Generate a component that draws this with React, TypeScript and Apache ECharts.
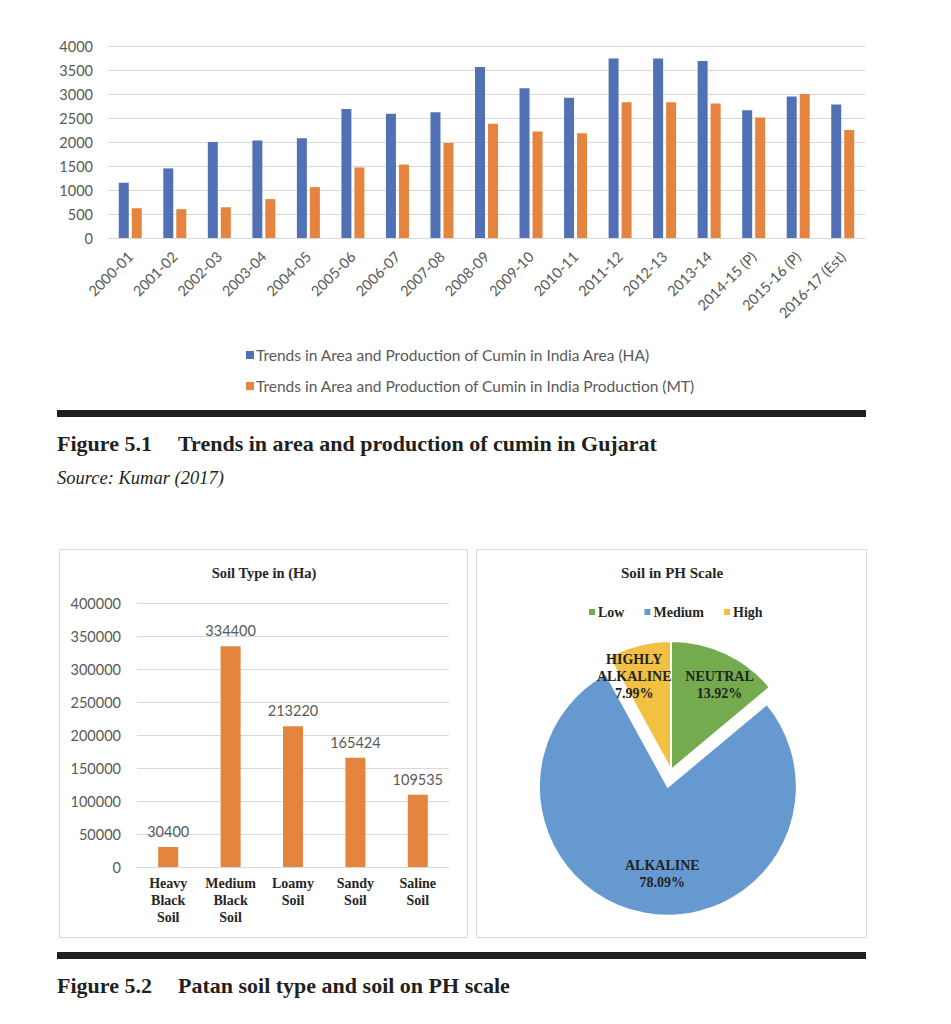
import React, { useEffect, useRef } from "react";
import * as echarts from "echarts";

const years = [
  "2000-01", "2001-02", "2002-03", "2003-04", "2004-05", "2005-06", "2006-07",
  "2007-08", "2008-09", "2009-10", "2010-11", "2011-12", "2012-13", "2013-14",
  "2014-15 (P)", "2015-16 (P)", "2016-17 (Est)",
];
const areaHA = [1150, 1450, 2000, 2030, 2080, 2690, 2590, 2620, 3560, 3120, 2920, 3740, 3740, 3690, 2660, 2950, 2780];
const productionMT = [620, 600, 640, 810, 1060, 1470, 1530, 1980, 2380, 2220, 2180, 2830, 2830, 2800, 2510, 3000, 2250];
const seriesNames = [
  "Trends in Area and Production of Cumin in India Area (HA)",
  "Trends in Area and Production of Cumin in India Production (MT)",
];

const soilTypes = ["Heavy\nBlack\nSoil", "Medium\nBlack\nSoil", "Loamy\nSoil", "Sandy\nSoil", "Saline\nSoil"];
const soilArea = [30400, 334400, 213220, 165424, 109535];

const phLegend = ["Low", "Medium", "High"];
const phLabels = ["NEUTRAL", "ALKALINE", "HIGHLY\nALKALINE"];
const phShare = [13.92, 78.09, 7.99];

const SANS = "Lato";
const SERIF = "Liberation Serif";
const GRAY = "#595959";
const DARK = "#231f20";

export default function App() {
  const ref = useRef<HTMLDivElement>(null);

  useEffect(() => {
    if (!ref.current) return;
    const chart = echarts.init(ref.current, null, { renderer: "svg" });
    const pieDx = [20, 7, -20];
    const pieDy = [-24, 21, -28];
    const plain = (v: number) => String(v);
    const option: any = {
      animation: false,
      backgroundColor: "#ffffff",
      textStyle: { fontFamily: SANS },
      legend: [
        {
          data: seriesNames,
          orient: "vertical",
          left: 241,
          top: 342,
          icon: "rect",
          itemWidth: 8,
          itemHeight: 8,
          itemGap: 15,
          selectedMode: false,
          textStyle: { color: GRAY, fontSize: 15.5, fontFamily: SANS, lineHeight: 16, padding: [0, 0, 0, -3] },
        },
        {
          data: phLegend,
          orient: "horizontal",
          left: 582,
          top: 600,
          icon: "rect",
          itemWidth: 8,
          itemHeight: 8,
          itemGap: 18,
          selectedMode: false,
          textStyle: { color: "#262626", fontSize: 14, fontFamily: SERIF, fontWeight: "bold", padding: [0, 0, 0, -3] },
        },
      ],
      grid: [
        { left: 108, right: 86, top: 46, bottom: 786, containLabel: false },
        { left: 137, right: 502, top: 603, bottom: 157, containLabel: false },
      ],
      xAxis: [
        {
          type: "category",
          gridIndex: 0,
          data: years,
          axisLine: { lineStyle: { color: "#d9d9d9" } },
          axisTick: { show: false },
          axisLabel: { rotate: 45, margin: 16, color: GRAY, fontSize: 14.5, fontFamily: SANS, interval: 0 },
        },
        {
          type: "category",
          gridIndex: 1,
          data: soilTypes,
          axisLine: { lineStyle: { color: "#d9d9d9" } },
          axisTick: { show: false },
          axisLabel: {
            margin: 8,
            color: "#262626",
            fontSize: 14,
            fontFamily: SERIF,
            fontWeight: "bold",
            lineHeight: 17,
            interval: 0,
          },
        },
      ],
      yAxis: [
        {
          type: "value",
          gridIndex: 0,
          min: 0,
          max: 4000,
          interval: 500,
          axisLine: { show: false },
          axisTick: { show: false },
          splitLine: { lineStyle: { color: "#d9d9d9" } },
          axisLabel: { color: GRAY, fontSize: 14.5, margin: 15, fontFamily: SANS, formatter: plain },
        },
        {
          type: "value",
          gridIndex: 1,
          min: 0,
          max: 400000,
          interval: 50000,
          axisLine: { show: false },
          axisTick: { show: false },
          splitLine: { lineStyle: { color: "#d9d9d9" } },
          axisLabel: { color: GRAY, fontSize: 14.5, margin: 16, fontFamily: SANS, formatter: plain },
        },
      ],
      series: [
        {
          name: seriesNames[0],
          type: "bar",
          xAxisIndex: 0,
          yAxisIndex: 0,
          data: areaHA,
          barWidth: 10,
          barGap: "30%",
          itemStyle: { color: "#5271b5" },
        },
        {
          name: seriesNames[1],
          type: "bar",
          xAxisIndex: 0,
          yAxisIndex: 0,
          data: productionMT,
          barWidth: 10,
          barGap: "30%",
          itemStyle: { color: "#e4843f" },
        },
        {
          name: "Soil Type in (Ha)",
          type: "bar",
          xAxisIndex: 1,
          yAxisIndex: 1,
          data: soilArea,
          barWidth: 20,
          itemStyle: { color: "#e4843f" },
          label: { show: true, position: "top", distance: 8, color: GRAY, fontSize: 14.5, fontFamily: SANS },
        },
        {
          name: "Soil in PH Scale",
          type: "pie",
          center: [671, 770],
          radius: 129,
          startAngle: 90,
          clockwise: true,
          selectedMode: "single",
          selectedOffset: 17,
          itemStyle: { borderColor: "#ffffff", borderWidth: 2 },
          color: ["#74ab4f", "#6699d0", "#f2c144"],
          data: phShare.map((v, i) => ({ name: phLegend[i], value: v, selected: i === 1 })),
          label: {
            show: true,
            position: "inside",
            formatter: (p: any) => phLabels[p.dataIndex] + "\n" + p.value.toFixed(2) + "%",
            color: "#222222",
            fontSize: 14,
            fontFamily: SERIF,
            fontWeight: "bold",
            lineHeight: 17,
            align: "center",
          },
          labelLine: { show: false },
          labelLayout: (p: any) => ({ dx: pieDx[p.dataIndex], dy: pieDy[p.dataIndex] }),
          emphasis: { disabled: true },
        },
      ],
      graphic: [
        { type: "rect", shape: { x: 59.5, y: 549.5, width: 408, height: 388 }, style: { fill: "none", stroke: "#d9d9d9", lineWidth: 1 } },
        { type: "rect", shape: { x: 476.5, y: 549.5, width: 390, height: 388 }, style: { fill: "none", stroke: "#d9d9d9", lineWidth: 1 } },
        { type: "rect", shape: { x: 57, y: 410, width: 809, height: 7 }, style: { fill: DARK } },
        { type: "rect", shape: { x: 57, y: 952, width: 809, height: 7 }, style: { fill: DARK } },
        {
          type: "text",
          x: 57,
          y: 443,
          style: { text: "Figure 5.1", fill: DARK, font: `bold 22px "${SERIF}"`, verticalAlign: "middle", align: "left" },
        },
        {
          type: "text",
          x: 178,
          y: 443,
          style: { text: "Trends in area and production of cumin in Gujarat", fill: DARK, font: `bold 22px "${SERIF}"`, verticalAlign: "middle", align: "left" },
        },
        {
          type: "text",
          x: 57,
          y: 478,
          style: { text: "Source: Kumar (2017)", fill: DARK, font: `italic 18.5px "${SERIF}"`, verticalAlign: "middle", align: "left" },
        },
        {
          type: "text",
          x: 57,
          y: 985,
          style: { text: "Figure 5.2", fill: DARK, font: `bold 22px "${SERIF}"`, verticalAlign: "middle", align: "left" },
        },
        {
          type: "text",
          x: 178,
          y: 985,
          style: { text: "Patan soil type and soil on PH scale", fill: DARK, font: `bold 22px "${SERIF}"`, verticalAlign: "middle", align: "left" },
        },
        {
          type: "text",
          x: 264,
          y: 573,
          style: { text: "Soil Type in (Ha)", fill: "#262626", font: `bold 14.5px "${SERIF}"`, verticalAlign: "middle", align: "center" },
        },
        {
          type: "text",
          x: 672,
          y: 573,
          style: { text: "Soil in PH Scale", fill: "#262626", font: `bold 15px "${SERIF}"`, verticalAlign: "middle", align: "center" },
        },
      ],
    };
    chart.setOption(option);
    return () => chart.dispose();
  }, []);

  return (
    <div
      ref={ref}
      style={{ position: "absolute", left: 0, top: 0, width: 951, height: 1024, background: "#ffffff" }}
    />
  );
}
